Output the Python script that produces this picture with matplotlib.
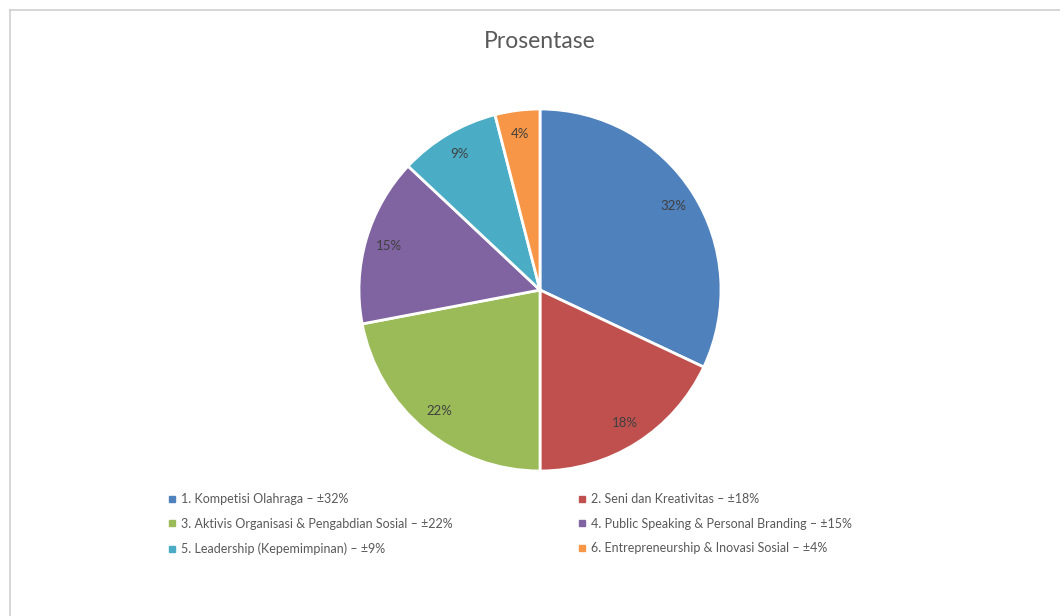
import matplotlib
matplotlib.use("Agg")
import matplotlib.pyplot as plt
from matplotlib.lines import Line2D

plt.rcParams['font.family'] = ['Lato', 'DejaVu Sans']

title = "Prosentase"
categories = [
    "1. Kompetisi Olahraga – ±32%",
    "2. Seni dan Kreativitas – ±18%",
    "3. Aktivis Organisasi & Pengabdian Sosial – ±22%",
    "4. Public Speaking & Personal Branding – ±15%",
    "5. Leadership (Kepemimpinan) – ±9%",
    "6. Entrepreneurship & Inovasi Sosial – ±4%",
]
values = [32, 18, 22, 15, 9, 4]
pct_labels = ["32%", "18%", "22%", "15%", "9%", "4%"]
colors = ["#4F81BD", "#C0504D", "#9BBB59", "#8064A2", "#4BACC6", "#F79646"]

W, H = 1060, 616
fig = plt.figure(figsize=(W / 100, H / 100), dpi=100)
fig.patch.set_facecolor("white")

# frame lines (top and left)
fig.add_artist(Line2D([10 / W, 1], [1 - 10 / H, 1 - 10 / H], color="#d0d0d0", lw=1.2))
fig.add_artist(Line2D([10 / W, 10 / W], [0, 1 - 10 / H], color="#d0d0d0", lw=1.2))

cx, cy, r = 540, 290, 181
ax = fig.add_axes([(cx - r) / W, (H - cy - r) / H, 2 * r / W, 2 * r / H])
wedges, texts = ax.pie(values, colors=colors, startangle=90, counterclock=False,
                       labels=pct_labels, labeldistance=0.87,
                       wedgeprops=dict(edgecolor="white", linewidth=2))
for t in texts:
    t.set_fontsize(9.5)
    t.set_color("#404040")
    t.set_ha("center")
    t.set_va("center")
ax.set_xlim(-1.0, 1.0)
ax.set_ylim(-1.0, 1.0)
ax.set_aspect("equal")
ax.axis("off")

fig.text(cx / W, 1 - 42 / H, title, ha="center", va="center", fontsize=16.5, color="#595959")

def handle(c):
    return Line2D([], [], marker="s", color="none", markerfacecolor=c,
                  markeredgecolor=c, markersize=4, linestyle="none")

left_idx = [0, 2, 4]
right_idx = [1, 3, 5]
for idx, xpx in ((left_idx, 168), (right_idx, 578)):
    leg = fig.legend([handle(colors[i]) for i in idx], [categories[i] for i in idx],
                     loc="upper left", bbox_to_anchor=(xpx / W, 1 - 493 / H),
                     frameon=False, fontsize=9, labelspacing=1.02,
                     handlelength=0.6, handletextpad=0.45, borderpad=0, borderaxespad=0)
    for t in leg.get_texts():
        t.set_color("#595959")

fig.savefig("out.png", dpi=100, facecolor="white")
